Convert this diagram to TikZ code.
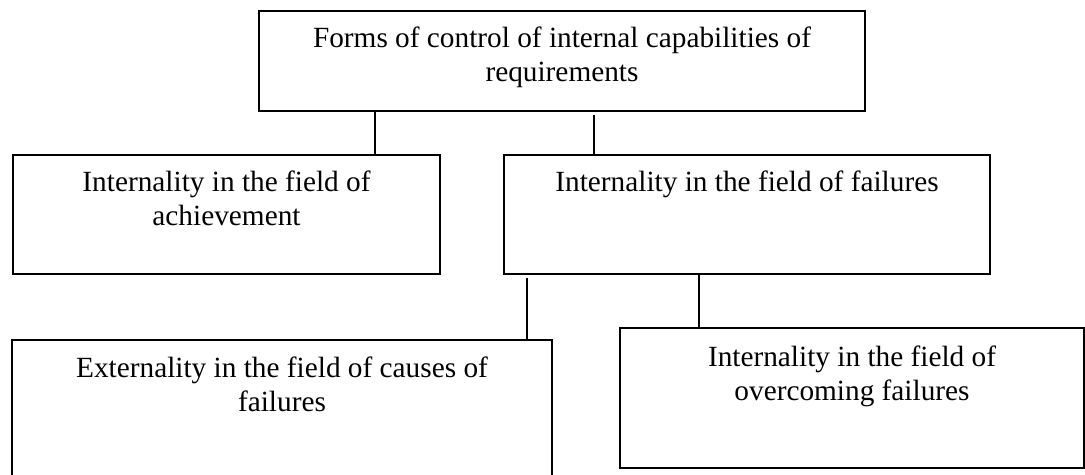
\documentclass[tikz,border=0pt]{standalone}
\usepackage{fontspec}
\setmainfont{Liberation Serif}
\usepackage{tikz}
\usetikzlibrary{positioning}

\begin{document}
\begin{tikzpicture}[
        x=0.5pt,y=-0.5pt,
        box/.style={draw,line width=1pt,anchor=north west,inner sep=0pt},
        lbl/.style={anchor=base,align=center,inner sep=0pt,
                    font=\fontsize{14.65}{17}\selectfont},
        link/.style={line width=1.1pt}
    ]
      \clip (0,0) rectangle (1085,475);
      % boxes
      \node[box,minimum width=303pt,minimum height=50pt] (top) at (258,10) {};
      \node[box,minimum width=213.5pt,minimum height=59.5pt] (ach) at (12,154) {};
      \node[box,minimum width=243pt,minimum height=59.5pt] (fail) at (503,154) {};
      \node[box,minimum width=270pt,minimum height=80pt] (cause) at (11,339) {};
      \node[box,minimum width=232pt,minimum height=70pt] (over) at (619,327) {};
      % texts (base = last line)
      \node[lbl] (topT) at ([yshift=-36pt]top.north) {Forms of control of internal capabilities of\\requirements};
      \node[lbl] (achT) at ([yshift=-36pt]ach.north) {Internality in the field of\\achievement};
      \node[lbl] (failT) at ([yshift=-19pt]fail.north) {Internality in the field of failures};
      \node[lbl] (causeT) at ([yshift=-36pt]cause.north) {Externality in the field of causes of\\failures};
      \node[lbl] (overT) at ([yshift=-36.5pt]over.north) {Internality in the field of\\overcoming failures};
      % links
      \draw[link] ([xshift=58.5pt]top.south west) -- ([xshift=58.5pt]top.south west |- ach.north);
      \draw[link] ([xshift=168pt,yshift=-1.5pt]top.south west) -- ([xshift=168pt]top.south west |- fail.north);
      \draw[link] ([xshift=12pt,yshift=-1.5pt]fail.south west) -- ([xshift=12pt]fail.south west |- cause.north);
      \draw[link] ([xshift=98pt]fail.south west) -- ([xshift=98pt]fail.south west |- over.north);
    \end{tikzpicture}
\end{document}
